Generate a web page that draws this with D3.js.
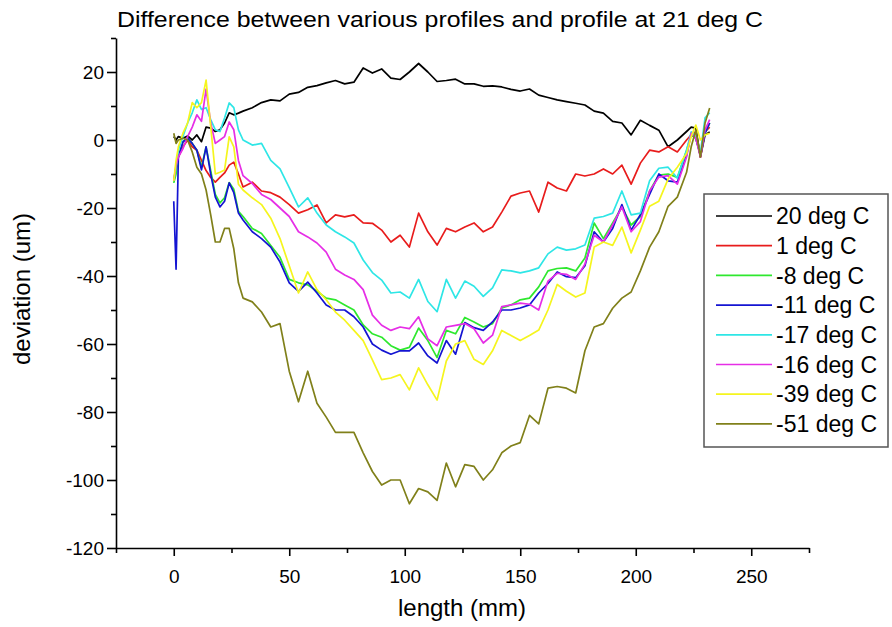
<!DOCTYPE html>
<html lang="en">
<head>
<meta charset="utf-8" />
<script src="https://cdn.jsdelivr.net/npm/d3@7"></script>
<style>
  body { margin: 0; background: #fff; }
  svg text { font-family: "Liberation Sans", Arial, sans-serif; fill: #000; }
</style>
</head>
<body>
<script>
const w = 892;
const h = 627;

// x positions (mm) shared by every profile
const lengths = [0, 1, 2, 4, 6, 8, 10, 12, 14, 16, 18, 20, 22, 24, 26, 28, 30,
  34, 38, 42, 46, 50, 54, 58, 62, 66, 70, 74, 78,
  82, 86, 90, 94, 98, 102, 106, 110, 114, 118, 122, 126,
  130, 134, 138, 142, 146, 150, 154, 158, 162, 166, 170, 174,
  178, 182, 186, 190, 194, 198, 202, 206, 210, 214, 218, 222,
  224, 226, 228, 230, 232];

// deviation (um), one array per temperature
const dev20 = [1, 0, 1, 0.5, 1.2, 0, 1.5, -0.5, 3.8, 3.5, 2.5, 3, 5, 8, 7.4, 7.9, 8.5,
  9.5, 11, 11.8, 11.5, 13.5, 14, 15.5, 16, 16.8, 17.5, 16.5, 17,
  21.2, 19.7, 20.9, 18.2, 17.8, 20, 22.5, 20, 17.2, 17.5, 17.9, 16.5,
  16.5, 15.8, 15.9, 15.6, 14.9, 14.4, 15, 13.2, 12.5, 11.8, 11.3, 10.8,
  10.3, 8.5, 7.9, 5.5, 5, 1.5, 5.8, 4.3, 2.9, -2, 0, 2.5,
  3.8, 3.5, -5, 1.5, 2.4];
const dev1 = [-12, -8, -5, -2, 0, -2, -3, -6, -9, -11, -12.4, -11, -9.7, -7.4, -6.5, -10, -13.8,
  -12.4, -15, -15.5, -16.8, -19, -21.5, -20.5, -19.1, -24.4, -22, -22.6, -22,
  -24.4, -24.5, -26.5, -30, -28, -31.5, -21.5, -27, -30.9, -26, -27, -25.6,
  -24.4, -27, -25.6, -21.2, -16.5, -15.6, -15, -21.2, -12.4, -14.1, -15, -10,
  -10.6, -10, -8.5, -10, -7.4, -13, -6.8, -3, -3.5, -2, -3.5, 0,
  1.5, 2.4, -5, 2.4, 3.8];
const devM8 = [-12.6, -10, -5, -0.5, 0.5, -1, -3, -8, -2, -9, -16, -18.5, -17, -12.5, -14.5, -21, -22.5,
  -26, -27.5, -31, -34.5, -41, -42, -42.6, -44.5, -46.5, -47, -48.5, -50,
  -54.4, -57, -58, -60.5, -61.8, -61, -55.3, -59, -64, -56, -57, -52.2,
  -53.5, -55, -54, -49.4, -48.5, -47, -46.5, -43.2, -38.5, -37.8, -37.6, -38.5,
  -34.7, -24.4, -29, -24.4, -19.7, -25, -22.5, -15, -10.3, -10, -11, -3,
  1.5, 0.5, -4.5, 2, 5];
const devM11 = [-18, -38, -5, -0.5, 0.5, -1, -3, -8.8, -2, -10, -16.8, -19.7, -18, -12.6, -15.5, -21.5, -23.5,
  -27, -29, -31.5, -35.9, -42, -44.5, -41.8, -45, -48.5, -50, -50, -52,
  -55, -60, -61.8, -63, -62, -62, -59.7, -63.5, -65.6, -59, -63, -53.7,
  -55.2, -56, -53.5, -50, -50, -49.4, -48.5, -45, -42.2, -38.8, -40.2, -40.5,
  -37, -27, -30, -26, -19, -26.5, -22, -16, -10, -12, -12.4, -4.5,
  2, 0.5, -4.5, 2, 5];
const devM17 = [-12, -8, -3, 1, 5, 8, 11.8, 9, 9.5, 6, 3, 2.5, 6.5, 10.9, 9.5, 3, 0,
  -1.5, -1, -6, -8.5, -14, -19.7, -17, -21.5, -25, -27, -28.5, -30.3,
  -35.3, -39, -41.2, -45, -44.7, -46.5, -41, -47.5, -50.5, -41, -46.5, -41.5,
  -43, -46, -43.5, -38.2, -38.5, -39.1, -38.5, -37.6, -33.5, -31.5, -32.4, -32,
  -30.9, -23, -22.5, -21.5, -15, -22, -21.5, -12, -8.3, -8, -11.2, -3,
  2.4, 1, -3.8, 6.5, 8];
const devM16 = [-12, -7.4, -5, -2.5, 1, 3.8, 7.4, 5.5, 15, 5, -1, 0, 1, 5.3, 3, -6, -10.5,
  -12.8, -16, -17.5, -20, -22.5, -27, -28.5, -30.3, -33, -38, -39.7, -41,
  -44, -51.5, -54.5, -56, -55, -55.5, -52, -58.5, -60.5, -55, -54.5, -54,
  -55.5, -59.7, -57.4, -49, -48.5, -48, -48.3, -50, -41.5, -39.2, -39.5, -41,
  -36.5, -28, -30, -25, -19.7, -27, -24, -15, -10.9, -10.5, -13, -5,
  2, 0.5, -5, 3, 6];
const devM39 = [-12, -6, -2, 2, 5, 11, 9.5, 11, 17.6, 4, -10, -9.5, -8.8, 0.9, -2, -13, -14.7,
  -17, -19, -23, -29, -37, -45, -38.8, -44, -47, -50.6, -53, -56,
  -59, -64.7, -70.5, -70, -69, -73.5, -67, -72, -76.5, -65, -60, -59,
  -64.5, -66, -62, -56, -57.5, -59, -57.5, -55.9, -50, -42.5, -44.5, -46.2,
  -45, -31.5, -30, -31, -25.6, -33.2, -26.5, -19.5, -18, -11.5, -8, -4,
  1, 4.4, 0, 1.5, 2];
const devM51 = [2, -1, 0, 0.5, 0, -3.5, -8, -10, -14.7, -22, -30, -30, -26, -26, -32, -42, -46.5,
  -47.6, -50.6, -55, -54, -68, -77, -68, -77.4, -81.5, -86, -86, -86,
  -92, -97.5, -101.5, -100, -100, -107, -102.5, -103.5, -106, -95, -102, -95.5,
  -96, -100, -97, -92, -90, -89, -81, -83.5, -73, -72.5, -73, -74.4,
  -62, -55, -54, -49.5, -46.5, -44.7, -38.5, -31.5, -27, -19.5, -16.8, -9.5,
  -2, 2.9, -5, 5, 9.4];

const seriesNames = ["20 deg C", "1 deg C", "-8 deg C", "-11 deg C", "-17 deg C", "-16 deg C", "-39 deg C", "-51 deg C"];
const seriesColors = ["#000000", "#e81c1c", "#2ee82e", "#1414d2", "#2ee6e6", "#e62ee6", "#f5f51e", "#80801a"];
const seriesValues = [dev20, dev1, devM8, devM11, devM17, devM16, devM39, devM51];

const xMajor = [0, 50, 100, 150, 200, 250];
const xMinor = [-25, 25, 75, 125, 175, 225, 275];
const yMajor = [-120, -100, -80, -60, -40, -20, 0, 20];
const yMinor = [-110, -90, -70, -50, -30, -10, 10, 30];

const xScale = d3.scaleLinear().domain([-25, 275]).range([116, 809]);
const yScale = d3.scaleLinear().domain([-120, 30]).range([548, 38]);

const svg = d3.select("body").append("svg")
  .attr("width", w)
  .attr("height", h)
  .style("background", "#fff");

// title
svg.append("text")
  .attr("x", 117)
  .attr("y", 27)
  .attr("textLength", 646)
  .attr("lengthAdjust", "spacingAndGlyphs")
  .style("font-size", "22px")
  .text("Difference between various profiles and profile at 21 deg C");

// profiles
const line = d3.line()
  .x((d, i) => xScale(lengths[i]))
  .y(d => yScale(d));

svg.append("g")
  .selectAll("path")
  .data(seriesValues)
  .join("path")
  .attr("d", d => line(d))
  .attr("fill", "none")
  .attr("stroke", (d, i) => seriesColors[i])
  .attr("stroke-width", 1.7)
  .attr("stroke-linejoin", "round");

// axes
const xAxisG = svg.append("g").attr("transform", "translate(0,548)");
xAxisG.call(d3.axisBottom(xScale).tickValues(xMajor).tickSize(8).tickSizeOuter(0)
  .tickPadding(14).tickFormat(d => String(d)));
xAxisG.append("g").call(d3.axisBottom(xScale).tickValues(xMinor).tickSize(5).tickFormat(""))
  .select(".domain").remove();

const yAxisG = svg.append("g").attr("transform", "translate(116,0)");
yAxisG.call(d3.axisLeft(yScale).tickValues(yMajor).tickSize(9).tickSizeOuter(0)
  .tickPadding(3).tickFormat(d => String(d)));
yAxisG.append("g").call(d3.axisLeft(yScale).tickValues(yMinor).tickSize(5).tickFormat(""))
  .select(".domain").remove();

svg.selectAll(".domain, .tick line").attr("stroke", "#000").attr("stroke-width", 1.6);
svg.selectAll(".tick text")
  .style("font-family", "'Liberation Sans', Arial, sans-serif")
  .style("font-size", "19px")
  .attr("fill", "#000");

// axis titles
svg.append("text")
  .attr("x", 462)
  .attr("y", 616)
  .attr("text-anchor", "middle")
  .style("font-size", "24px")
  .text("length (mm)");

svg.append("text")
  .attr("transform", "translate(30,289) rotate(-90)")
  .attr("text-anchor", "middle")
  .style("font-size", "24px")
  .text("deviation (um)");

// legend
const legend = svg.append("g");
legend.append("rect")
  .attr("x", 704)
  .attr("y", 194)
  .attr("width", 184)
  .attr("height", 253)
  .attr("fill", "#fff")
  .attr("stroke", "#555")
  .attr("stroke-width", 1.5);

const rows = legend.selectAll("g.row")
  .data(seriesNames)
  .join("g")
  .attr("class", "row")
  .attr("transform", (d, i) => `translate(0,${216 + i * 29.7})`);

rows.append("line")
  .attr("x1", 716)
  .attr("x2", 772)
  .attr("stroke", (d, i) => seriesColors[i])
  .attr("stroke-width", 1.7);

rows.append("text")
  .attr("x", 776)
  .attr("dy", "0.36em")
  .style("font-size", "23px")
  .text(d => d);
</script>
</body>
</html>
